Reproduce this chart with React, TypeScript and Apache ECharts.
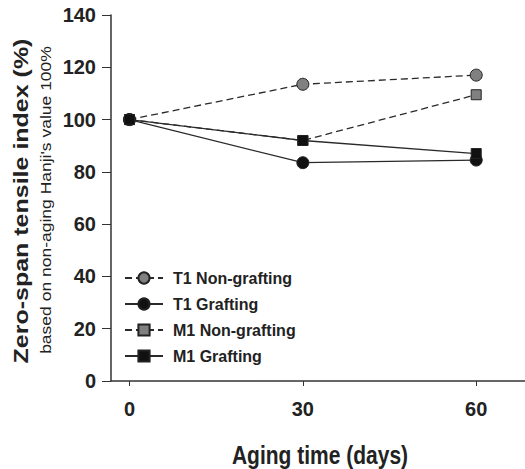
import React, { useEffect, useRef } from "react";
import * as echarts from "echarts";

const days = [0, 30, 60];
const t1NonGrafting = [100, 113.5, 117];
const t1Grafting = [100, 83.5, 84.5];
const m1NonGrafting = [100, 92, 109.5];
const m1Grafting = [100, 92, 87];
const legendNames = ["T1 Non-grafting", "T1 Grafting", "M1 Non-grafting", "M1 Grafting"];

const FONT = "'Liberation Sans', Arial, sans-serif";

export default function App() {
  const ref = useRef<HTMLDivElement>(null);
  useEffect(() => {
    const chart = echarts.init(ref.current!, null, { renderer: "svg" });
    const pair = (vals: number[]) => days.map((d, i) => [d, vals[i]]);
    const mk = (name: string, vals: number[], symbol: string, color: string, dashed: boolean, size: number) => ({
      name,
      type: "line",
      data: pair(vals),
      symbol,
      symbolSize: size,
      lineStyle: { color: "#2a2a2a", width: 1.3, type: dashed ? [7, 4] : "solid" },
      itemStyle: { color, borderColor: "#222", borderWidth: 1 },
      z: dashed ? 2 : 3,
    });
    chart.setOption({
      animation: false,
      backgroundColor: "#fff",
      grid: { left: 111, right: -9, top: 15, bottom: 88, outerBoundsMode: "none", containLabel: false },
      xAxis: {
        type: "value",
        min: -3.2,
        max: 70,
        axisLine: { onZero: false, lineStyle: { color: "#333", width: 1.5 } },
        axisTick: { show: true, length: 5, lineStyle: { color: "#333" }, customValues: days },
        splitLine: { show: false },
        axisLabel: {
          fontFamily: FONT,
          fontWeight: "bold",
          fontSize: 20,
          color: "#222",
          margin: 18,
          customValues: days,
        },
      },
      yAxis: {
        type: "value",
        min: 0,
        max: 140,
        interval: 20,
        axisLine: { show: true, onZero: false, lineStyle: { color: "#333", width: 1.5 } },
        axisTick: { show: true, length: 9, lineStyle: { color: "#333" } },
        splitLine: { show: false },
        axisLabel: {
          fontFamily: FONT,
          fontWeight: "bold",
          fontSize: 20,
          color: "#222",
          margin: 15,
        },
      },
      legend: {
        orient: "vertical",
        left: 119,
        top: 265,
        itemWidth: 38,
        itemHeight: 14,
        itemGap: 10,
        textStyle: { fontFamily: FONT, fontWeight: "bold", fontSize: 16, color: "#222", padding: [0, 0, 0, 5] },
        data: legendNames,
      },
      graphic: [
        {
          type: "text",
          x: 21,
          y: 201,
          rotation: Math.PI / 2,
          scaleY: 0.8,
          style: {
            text: "Zero-span tensile index (%)",
            font: `bold 25px ${FONT}`,
            fill: "#222",
            align: "center",
            verticalAlign: "middle",
          },
        },
        {
          type: "text",
          x: 46,
          y: 200,
          rotation: Math.PI / 2,
          scaleY: 0.85,
          style: {
            text: "based on non-aging Hanji's value 100%",
            font: `17.5px ${FONT}`,
            fill: "#222",
            align: "center",
            verticalAlign: "middle",
          },
        },
        {
          type: "text",
          x: 320,
          y: 455,
          scaleX: 0.84,
          style: {
            text: "Aging time (days)",
            font: `bold 25px ${FONT}`,
            fill: "#222",
            align: "center",
            verticalAlign: "middle",
          },
        },
      ],
      series: [
        mk(legendNames[0], t1NonGrafting, "circle", "#808080", true, 12),
        mk(legendNames[1], t1Grafting, "circle", "#111", false, 12),
        mk(legendNames[2], m1NonGrafting, "rect", "#808080", true, 10),
        mk(legendNames[3], m1Grafting, "rect", "#111", false, 10),
      ],
    });
    return () => chart.dispose();
  }, []);
  return (
    <div
      ref={ref}
      style={{ position: "fixed", left: 0, top: 0, width: 525, height: 469, overflow: "hidden" }}
    />
  );
}
